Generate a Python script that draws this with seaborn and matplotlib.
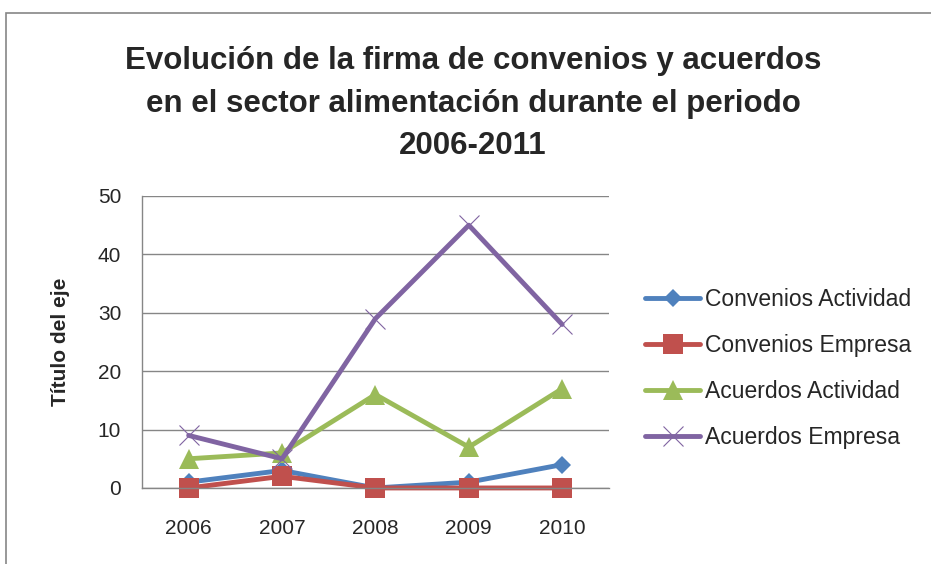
import pandas as pd
import seaborn as sns
from matplotlib import pyplot as plt
from matplotlib.patches import Rectangle

years = [2006, 2007, 2008, 2009, 2010]
convenios_actividad = [1, 3, 0, 1, 4]
convenios_empresa = [0, 2, 0, 0, 0]
acuerdos_actividad = [5, 6, 16, 7, 17]
acuerdos_empresa = [9, 5, 29, 45, 28]
series_names = ['Convenios Actividad', 'Convenios Empresa', 'Acuerdos Actividad', 'Acuerdos Empresa']

df = pd.concat([
    pd.DataFrame({'year': years, 'value': v, 'serie': n})
    for n, v in zip(series_names, [convenios_actividad, convenios_empresa, acuerdos_actividad, acuerdos_empresa])
])

colors = ['#4F81BD', '#C0504D', '#9BBB59', '#8064A2']
markers = ['D', 's', '^', 'x']
msizes = [9, 14, 14, 14]

sns.set_style('white')
plt.rcParams['font.family'] = ['Liberation Sans', 'DejaVu Sans']

fig = plt.figure(figsize=(9.31, 5.64), dpi=100)
ax = fig.add_axes([0.1525, 0.1348, 0.5015, 0.5177])

for name, c, m, ms in zip(series_names, colors, markers, msizes):
    sns.lineplot(
        data=df[df['serie'] == name], x='year', y='value',
        color=c, marker=m, markersize=ms, linewidth=3.5,
        markeredgecolor=c, markeredgewidth=0.8 if m == 'x' else 0,
        label=name, ax=ax, clip_on=False,
    )

ax.set_xlim(2005.5, 2010.5)
ax.set_ylim(0, 50)
ax.set_xticks(years)
ax.set_yticks(range(0, 51, 10))
ax.tick_params(labelsize=15, length=0)
ax.tick_params(axis='x', pad=22)
ax.tick_params(axis='y', pad=15)
ax.grid(axis='y', color='#868686', linewidth=1)
ax.set_axisbelow(True)
for s in ['top', 'right']:
    ax.spines[s].set_visible(False)
for s in ['left', 'bottom']:
    ax.spines[s].set_color('#868686')
    ax.spines[s].set_linewidth(1)
ax.set_xlabel('')
ax.set_ylabel('Título del eje', fontsize=15, fontweight='bold', labelpad=20)

ax.legend(loc='center left', bbox_to_anchor=(1.058, 0.408), frameon=False,
          fontsize=16.5, labelspacing=1.0, handlelength=2.4, handletextpad=0.2,
          borderaxespad=0)

fig.text(0.508, 0.816, 'Evolución de la firma de convenios y acuerdos\nen el sector alimentación durante el periodo\n2006-2011',
         ha='center', va='center', fontsize=22.5, fontweight='bold', linespacing=1.55)

fig.patches.append(Rectangle((0.006, -0.05), 1.1, 1.027, transform=fig.transFigure,
                             fill=False, edgecolor='#868686', linewidth=1.2))

fig.savefig('out.png', dpi=100)
